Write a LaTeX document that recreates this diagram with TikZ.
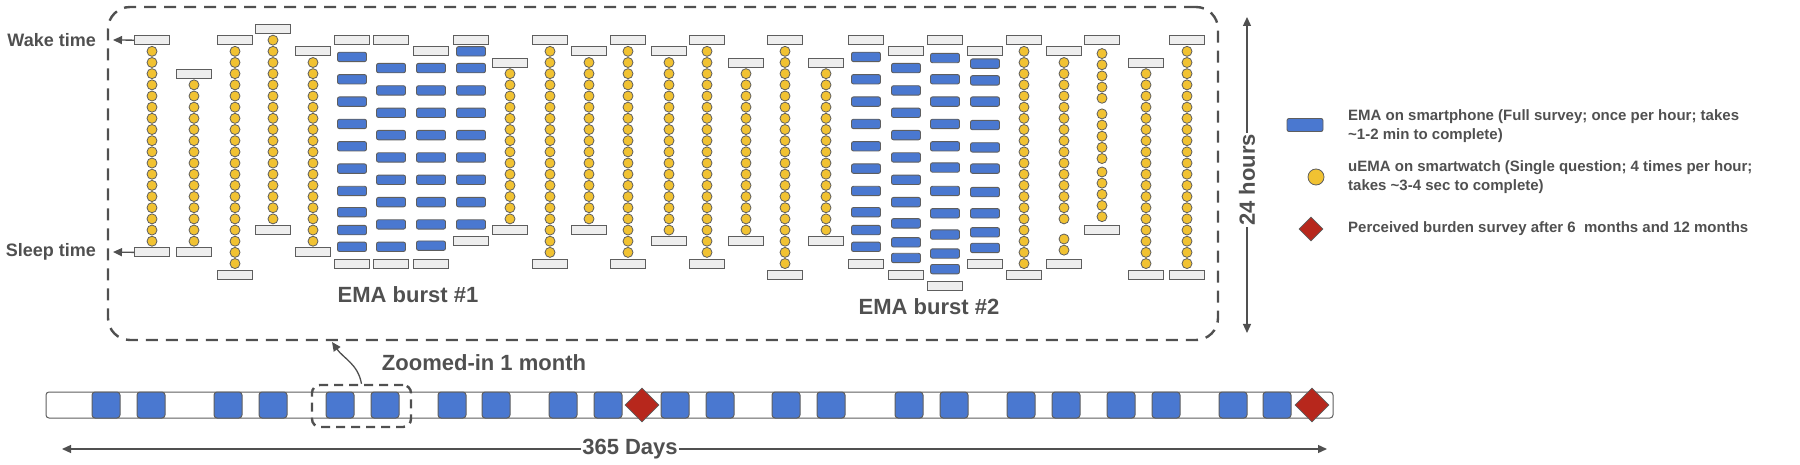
\documentclass[tikz,border=0pt]{standalone}
\usepackage{fontspec}
\setmainfont{Liberation Sans}
\usetikzlibrary{arrows.meta,shapes.geometric}

\definecolor{emablue}{HTML}{4A78D0}
\definecolor{uemayellow}{HTML}{F1C232}
\definecolor{burdenred}{HTML}{B7271C}
\definecolor{inkgray}{HTML}{505050}
\definecolor{edgegray}{HTML}{5E5E5E}
\definecolor{barfill}{HTML}{EEEEEE}

\tikzset{
  daybar/.style={draw=edgegray,fill=barfill,line width=1pt,minimum width=35pt,minimum height=9pt,inner sep=0pt},
  emarect/.style={draw=edgegray,fill=emablue,line width=0.9pt,rounded corners=2pt},
  uemadot/.style={draw=edgegray,fill=uemayellow,line width=0.8pt},
  emaday/.style={draw=edgegray,fill=emablue,line width=1pt,rounded corners=3pt,minimum width=28pt,minimum height=26pt,inner sep=0pt},
  burden/.style={diamond,draw=edgegray,fill=burdenred,line width=0.8pt,aspect=1,inner sep=0pt},
  dashframe/.style={draw=inkgray,line width=2.4pt,dash pattern=on 12pt off 8pt,inner sep=0pt},
  guide/.style={draw=inkgray,line width=1.3pt},
  biglabel/.style={text=inkgray,inner sep=1pt,font=\bfseries\fontsize{22}{26}\selectfont},
  sidelabel/.style={text=inkgray,inner sep=1pt,font=\bfseries\fontsize{18}{21}\selectfont},
  legtext/.style={text=inkgray,anchor=west,align=left,inner sep=0pt,font=\bfseries\fontsize{15}{19.5}\selectfont},
}

\begin{document}
\begin{tikzpicture}[x=1pt,y=1pt,>={Triangle[length=9pt,width=8pt]}]
  \useasboundingbox (0,0) rectangle (1800,464);

  % zoomed-in month: one column per day, slot k sits at y=435-11.17k
  \foreach \n/\cx/\wakeK/\sleepK in {1/152/1/20,2/194/4/20,3/235/1/22,4/273/0/18,5/313/2/20,
      10/510/3/18,11/550/1/21,12/589/2/18,13/628/1/21,14/669/2/19,15/707/1/21,
      16/746/3/19,17/785/1/22,18/826/3/19,23/1024/1/22,26/1146/3/22,27/1187/1/22}{
    \node[daybar] (wake\n) at (\cx,{435-11.17*\wakeK}) {};
    \node[daybar] (sleep\n) at (\cx,{435-11.17*\sleepK}) {};
    \pgfmathtruncatemacro{\first}{\wakeK+1}
    \pgfmathtruncatemacro{\last}{\sleepK-1}
    \foreach \k in {\first,...,\last}
      \path[uemadot] (\cx,{435-11.17*\k}) circle (5pt);
  }
  % days with skipped uEMA prompts
  \foreach \n/\cx/\wakeK/\sleepK/\ks in {
      24/1064/2/21/{3,4,5,6,7,8,9,10,11,12,13,14,15,16,17,18.8,19.8},
      25/1102/1/18/{2.2,3.2,4.2,5.2,6.2,7.6,8.6,9.6,10.6,11.6,12.8,13.8,14.8,15.8,16.8}}{
    \node[daybar] (wake\n) at (\cx,{435-11.17*\wakeK}) {};
    \node[daybar] (sleep\n) at (\cx,{435-11.17*\sleepK}) {};
    \foreach \k in \ks
      \path[uemadot] (\cx,{435-11.17*\k}) circle (5pt);
  }
  % EMA burst days
  \foreach \n/\cx/\wakeK/\sleepK/\ks in {
      6/352/1/21/{2.5,4.5,6.5,8.5,10.5,12.5,14.5,16.4,18,19.5},
      7/391/1/21/{3.5,5.5,7.5,9.5,11.5,13.5,15.5,17.5,19.5},
      8/431/2/21/{3.5,5.5,7.5,9.5,11.5,13.5,15.5,17.5,19.4},
      9/471/1/19/{2,3.5,5.5,7.5,9.5,11.5,13.5,15.5,17.5},
      19/866/1/21/{2.5,4.5,6.5,8.5,10.5,12.5,14.5,16.4,18,19.5},
      20/906/2/22/{3.5,5.5,7.5,9.5,11.5,13.5,15.5,17.4,19.1,20.5},
      21/945/1/23/{2.6,4.5,6.5,8.5,10.5,12.4,14.5,16.5,18.4,20.1,21.5},
      22/985/2/21/{3.1,4.6,6.5,8.6,10.6,12.5,14.6,16.5,18.2,19.6}}{
    \node[daybar] (wake\n) at (\cx,{435-11.17*\wakeK}) {};
    \node[daybar] (sleep\n) at (\cx,{435-11.17*\sleepK}) {};
    \foreach \k in \ks
      \path[emarect] ({\cx-14.5},{435-11.17*\k-4.7}) rectangle ({\cx+14.5},{435-11.17*\k+4.7});
  }

  \node[sidelabel,anchor=east] (wakeLbl) at (97,424) {Wake time};
  \node[sidelabel,anchor=east] (sleepLbl) at (97,212) {Sleep time};
  \coordinate (wakeTip) at (113,424);
  \coordinate (sleepTip) at (113,212);
  \draw[guide,->] (wake1.west) -- (wakeTip);
  \draw[guide,->] (sleep1.west) -- (sleepTip);

  \node[biglabel] (burstA) at (408,169) {EMA burst \#1};
  \node[biglabel] (burstB) at (929,157) {EMA burst \#2};
  \node[dashframe,rounded corners=22pt,minimum width=1110pt,minimum height=333pt] (monthFrame) at (663,290.5) {};

  \node[biglabel,rotate=90] (hours) at (1247,284) {24 hours};
  \coordinate (hoursTop) at (1247,447);
  \coordinate (hoursBot) at (1247,131);
  \draw[guide,->] (hours.east) -- (hoursTop);
  \draw[guide,->] (hours.west) -- (hoursBot);

  % legend
  \node[emarect,minimum width=36pt,minimum height=13pt,inner sep=0pt] (legEma) at (1305,339) {};
  \node[legtext] (legEmaTxt) at (1348,338) {EMA on smartphone (Full survey; once per hour; takes\\\textasciitilde1-2 min to complete)};
  \node[uemadot,circle,minimum size=16pt,inner sep=0pt] (legUema) at (1316,287) {};
  \node[legtext] (legUemaTxt) at (1348,287) {uEMA on smartwatch (Single question; 4 times per hour;\\takes \textasciitilde3-4 sec to complete)};
  \node[burden,minimum size=24pt] (legBurden) at (1311,235) {};
  \node[legtext] (legBurdenTxt) at (1348,235) {Perceived burden survey after 6\ \ months and 12 months};

  % whole year
  \node[draw=edgegray,fill=white,line width=1pt,rounded corners=3pt,minimum width=1287pt,minimum height=26pt,inner sep=0pt] (year) at (689.5,59) {};
  \foreach \cx [count=\i] in {106,151,228,273,340,385,452,496,563,608,675,720,786,831,909,954,1021,1066,1121,1166,1233,1277}
    \node[emaday] (day\i) at (\cx,59) {};
  \node[burden,minimum size=34pt] (sixMonth) at (642,59) {};
  \node[burden,minimum size=34pt] (twelveMonth) at (1312,59) {};

  \node[dashframe,dash pattern=on 9pt off 6pt,rounded corners=8pt,minimum width=99pt,minimum height=42pt] (zoomBox) at (361.5,58) {};
  \node[biglabel] (zoomLbl) at (484,101) {Zoomed-in 1 month};
  \coordinate (frameHit) at (332,122);
  \draw[guide,->] (zoomBox.north) to[out=100,in=-55] (frameHit);

  \node[biglabel,fill=white] (days) at (630,15) {365 Days};
  \coordinate (daysL) at (62,15);
  \coordinate (daysR) at (1327,15);
  \draw[guide,->] (days.west) -- (daysL);
  \draw[guide,->] (days.east) -- (daysR);
\end{tikzpicture}
\end{document}
